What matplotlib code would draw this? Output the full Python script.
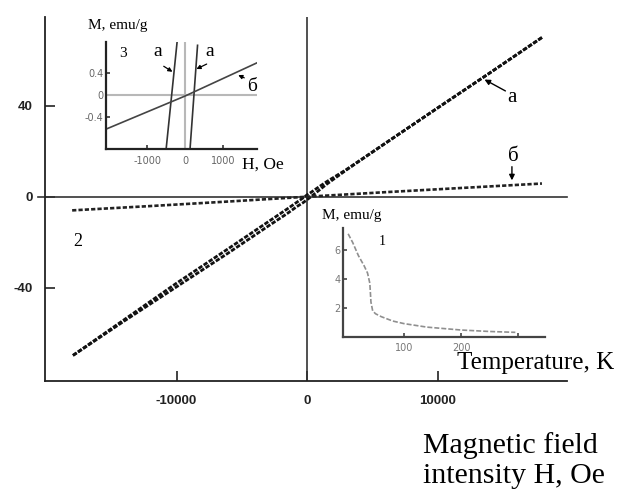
import matplotlib
matplotlib.use("Agg")
import matplotlib.pyplot as plt

plt.rcParams['axes.unicode_minus'] = False

# main plot: M(H) of sample "a" (two sweep branches) and sample "б"
h_loop = [18000, 14000, 10000, 6000, 3000, 1500, 800, 300, 0, -300, -800, -1500, -3000, -6000, -10000, -14000, -18000]
m_down = [70, 54.4, 39.0, 23.5, 11.9, 6.6, 3.9, 1.9, 0.8, -0.5, -2.5, -5.3, -11.1, -22.7, -38.0, -54.0, -70]
m_up = [70, 54.4, 39.0, 23.5, 11.7, 5.5, 2.3, 0.0, -1.3, -2.6, -4.4, -7.3, -13.0, -24.6, -39.6, -54.6, -70]
h_b = [-18000, -12000, -6000, 0, 6000, 12000, 18000]
m_b = [-6.0, -4.1, -2.1, 0.0, 2.0, 3.9, 5.8]

# inset 1: M(T)
temp = [2, 10, 20, 30, 36, 40, 42, 45, 50, 60, 80, 100, 140, 200, 250, 295]
m_temp = [7.1, 6.5, 5.6, 4.9, 4.4, 3.7, 2.4, 1.8, 1.6, 1.4, 1.1, 0.92, 0.68, 0.48, 0.38, 0.32]

# inset 3: low-field part
h_a_left = [-500, -210]
m_a_left = [-1.0, 0.95]
h_a_right = [130, 330]
m_a_right = [-1.0, 0.9]
h_b_small = [-2080, 0, 1950]
m_b_small = [-0.62, -0.02, 0.6]

serif = 'Liberation Serif'
sans = 'Liberation Sans'
W, H = 623, 490

def px(x0, y0, x1, y1):
    # pixel box (left, top, right, bottom) -> figure fraction rect
    return [x0 / W, 1 - y1 / H, (x1 - x0) / W, (y1 - y0) / H]

fig = plt.figure(figsize=(6.23, 4.9), dpi=100)

# ---------------- main axes
ax = fig.add_axes(px(45, 17, 567, 381))
ax.set_xlim(-20080, 19920)
ax.set_ylim(-81, 79)
for s in ['top', 'right']:
    ax.spines[s].set_visible(False)
for s in ['left', 'bottom']:
    ax.spines[s].set_linewidth(1.3)
    ax.spines[s].set_color('#222222')
ax.axhline(0, xmin=-0.014, xmax=1, color='#333333', lw=1.2, clip_on=False)
ax.axvline(0, color='#333333', lw=1.2)

ax.plot(h_loop, m_down, color='#111111', lw=2.0, ls=(0, (1.6, 0.6)))
ax.plot(h_loop, m_up, color='#111111', lw=2.0, ls=(0, (1.6, 0.6)))
ax.plot(h_b, m_b, color='#222222', lw=1.9, ls=(0, (1.6, 0.8)))

ax.set_xticks([-10000, 0, 10000])
ax.set_yticks([-40, 0, 40])
ax.tick_params(direction='in', length=7, width=1.2, color='#222222')
ax.tick_params(axis='x', pad=10)
ax.tick_params(axis='y', pad=9)
for lab in ax.get_xticklabels() + ax.get_yticklabels():
    lab.set_fontfamily(sans)
    lab.set_fontweight('bold')
    lab.set_fontsize(9.5)
    lab.set_color('#222222')

ax.text(15700, 43.5, 'a', family=serif, fontsize=15, ha='center', va='center')
ax.annotate('', xy=(13600, 51.5), xytext=(15200, 46.5),
            arrowprops=dict(arrowstyle='-|>', color='black', lw=1.0,
                            mutation_scale=8, shrinkA=0, shrinkB=0))
ax.text(15800, 17.5, 'б', family=serif, fontsize=15, ha='center', va='center')
ax.annotate('', xy=(15700, 7.2), xytext=(15700, 13.2),
            arrowprops=dict(arrowstyle='-|>', color='black', lw=1.0,
                            mutation_scale=8, shrinkA=0, shrinkB=0))
ax.text(-17600, -19.5, '2', family=serif, fontsize=13, ha='center', va='center')

# ---------------- inset 3 (low field)
ax3 = fig.add_axes(px(106, 42, 257, 149))
ax3.set_xlim(-2080, 1895)
ax3.set_ylim(-0.98, 0.96)
for s in ['top', 'right']:
    ax3.spines[s].set_visible(False)
for s in ['left', 'bottom']:
    ax3.spines[s].set_linewidth(1.6)
    ax3.spines[s].set_color('#222222')
ax3.axhline(0, color='#b8b8b8', lw=1.5)
ax3.axvline(0, color='#b8b8b8', lw=1.5)
ax3.plot(h_a_left, m_a_left, color='#333333', lw=1.2)
ax3.plot(h_a_right, m_a_right, color='#333333', lw=1.2)
ax3.plot(h_b_small, m_b_small, color='#444444', lw=1.2)
ax3.set_xticks([-1000, 0, 1000])
ax3.set_yticks([-0.4, 0, 0.4])
ax3.set_yticklabels(['-0.4', '0', '0.4'])
ax3.tick_params(direction='in', length=3, width=1.2, color='#333333',
                labelsize=7, labelcolor='#666666')
ax3.tick_params(axis='x', pad=5)
ax3.tick_params(axis='y', pad=2)
ax3.text(-1620, 0.76, '3', family=serif, fontsize=11, ha='center', va='center')
ax3.text(-710, 0.78, 'a', family=serif, fontsize=14, ha='center', va='center')
ax3.annotate('', xy=(-330, 0.42), xytext=(-560, 0.52),
             arrowprops=dict(arrowstyle='-|>', color='black', lw=0.9,
                             mutation_scale=6, shrinkA=0, shrinkB=0))
ax3.text(660, 0.78, 'a', family=serif, fontsize=14, ha='center', va='center')
ax3.annotate('', xy=(300, 0.47), xytext=(570, 0.56),
             arrowprops=dict(arrowstyle='-|>', color='black', lw=0.9,
                             mutation_scale=6, shrinkA=0, shrinkB=0))
ax3.text(1760, 0.16, 'б', family=serif, fontsize=14, ha='center', va='center',
         clip_on=False)
ax3.annotate('', xy=(1400, 0.36), xytext=(1560, 0.31),
             arrowprops=dict(arrowstyle='-|>', color='black', lw=0.9,
                             mutation_scale=6, shrinkA=0, shrinkB=0))
fig.text(88 / W, 1 - 25 / H, 'M, emu/g', family=serif, fontsize=11, va='center')
fig.text(242 / W, 1 - 165 / H, 'H, Oe', family=serif, fontsize=12.5, va='center')

# ---------------- inset 1 (temperature)
ax1 = fig.add_axes(px(343, 228, 545, 337))
ax1.set_xlim(-7, 347)
ax1.set_ylim(0, 7.5)
for s in ['top', 'right']:
    ax1.spines[s].set_visible(False)
for s in ['left', 'bottom']:
    ax1.spines[s].set_linewidth(1.6)
    ax1.spines[s].set_color('#444444')
ax1.plot(temp, m_temp, color='#8f8f8f', lw=1.2, ls=(0, (3, 1.2)))
ax1.set_xticks([100, 200, 300])
ax1.set_xticklabels(['100', '200', ''])
ax1.set_yticks([2, 4, 6])
ax1.tick_params(direction='in', length=3, width=1.2, color='#444444',
                labelsize=7, labelcolor='#777777')
ax1.tick_params(axis='x', pad=4)
ax1.tick_params(axis='y', pad=2)
ax1.text(61, 6.55, '1', family=serif, fontsize=10, ha='center', va='center')
fig.text(322 / W, 1 - 215 / H, 'M, emu/g', family=serif, fontsize=11, va='center')
fig.text(457 / W, 1 - 363 / H, 'Temperature, K', family=serif, fontsize=18, va='center')

fig.text(423 / W, 1 - 461 / H, 'Magnetic field\nintensity H, Oe', family=serif,
         fontsize=21.5, va='center', linespacing=1.2)

fig.savefig('out.png', dpi=100)
